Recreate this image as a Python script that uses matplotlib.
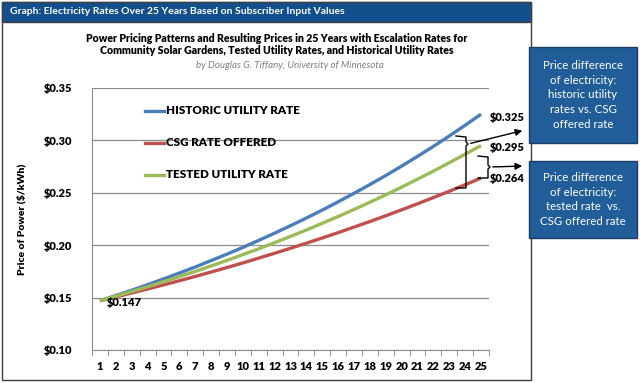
import matplotlib
matplotlib.use("Agg")
from matplotlib import pyplot as plt
from matplotlib.patches import Rectangle, FancyArrowPatch
from matplotlib.lines import Line2D

plt.rcParams['font.family'] = ['Lato', 'DejaVu Sans']

# data
years = list(range(1, 26))
historic = [0.1470, 0.1519, 0.1570, 0.1623, 0.1678, 0.1734, 0.1792, 0.1853, 0.1915, 0.1979,
            0.2046, 0.2115, 0.2186, 0.2259, 0.2335, 0.2414, 0.2495, 0.2579, 0.2665, 0.2755,
            0.2848, 0.2943, 0.3042, 0.3145, 0.3250]
csg = [0.1470, 0.1506, 0.1544, 0.1582, 0.1621, 0.1661, 0.1702, 0.1744, 0.1787, 0.1831,
       0.1877, 0.1923, 0.1971, 0.2019, 0.2069, 0.2120, 0.2173, 0.2226, 0.2281, 0.2338,
       0.2395, 0.2455, 0.2515, 0.2577, 0.2641]
tested = [0.1470, 0.1513, 0.1558, 0.1604, 0.1651, 0.1700, 0.1750, 0.1802, 0.1855, 0.1910,
          0.1966, 0.2024, 0.2084, 0.2145, 0.2209, 0.2274, 0.2341, 0.2410, 0.2481, 0.2554,
          0.2630, 0.2707, 0.2787, 0.2869, 0.2950]
series_names = ["HISTORIC UTILITY RATE", "CSG RATE OFFERED", "TESTED UTILITY RATE"]
y_ticks = [0.10, 0.15, 0.20, 0.25, 0.30, 0.35]

W, H = 640, 383
fig = plt.figure(figsize=(6.4, 3.83), dpi=100)


def px(x, y):
    # pixel position (from top left) -> figure fraction
    return x / W, 1 - y / H


ax = fig.add_axes([92 / W, 1 - 350 / H, (489 - 92) / W, (350 - 88) / H])

blue, red, green = '#4a7ebb', '#c0504d', '#9bbb59'
ax.plot(years, historic, color=blue, lw=2.4, solid_capstyle='butt')
ax.plot(years, csg, color=red, lw=2.4, solid_capstyle='butt')
ax.plot(years, tested, color=green, lw=2.4, solid_capstyle='butt')

ax.set_xlim(0.5, 25.5)
ax.set_ylim(0.10, 0.35)
ax.set_yticks(y_ticks)
ax.set_yticklabels(['$%.2f' % v for v in y_ticks], fontsize=8, fontweight='heavy')
ax.set_xticks(years)
ax.set_xticklabels([str(y) for y in years], fontsize=8, fontweight='heavy')
ax.set_xticks([y + 0.5 for y in range(0, 26)], minor=True)
ax.tick_params(axis='x', which='major', length=0, pad=8)
ax.tick_params(axis='x', which='minor', length=4, color='#868686', direction='out')
ax.tick_params(axis='y', length=0, pad=14)
ax.grid(axis='y', color='#8c8c8c', lw=0.9)
ax.set_axisbelow(True)
for s in ['top', 'right']:
    ax.spines[s].set_visible(False)
for s in ['left', 'bottom']:
    ax.spines[s].set_color('#8c8c8c')
ax.set_ylabel('Price of Power ($/kWh)', fontsize=7.5, fontweight='heavy', labelpad=13)

# legend drawn manually as in the source
leg_colors = [blue, red, green]
for i, (name, c) in enumerate(zip(series_names, leg_colors)):
    yy = 111 + i * 32
    fig.add_artist(Line2D([145 / W, 164 / W], [1 - yy / H] * 2, color=c, lw=2.4))
    fig.text(*px(166, yy), name, fontsize=8.4, fontweight='heavy', va='center', ha='left')

# value labels
fig.text(*px(490, 117), '$0.325', fontsize=8, fontweight='heavy', va='center')
fig.text(*px(490, 148), '$0.295', fontsize=8, fontweight='heavy', va='center')
fig.text(*px(490, 179), '$0.264', fontsize=8, fontweight='heavy', va='center')
fig.text(*px(107, 302), '$0.147', fontsize=8, fontweight='heavy', va='center')

# outer frame and header
fig.add_artist(Rectangle(px(2, 380), 529 / W, 378 / H, fill=False, ec='#404040', lw=1,
                         transform=fig.transFigure))
fig.add_artist(Rectangle(px(2, 22), 529 / W, 20 / H, fc='#134f8c', ec='#404040', lw=1,
                         transform=fig.transFigure))
fig.text(*px(10, 12), 'Graph: Electricity Rates Over 25 Years Based on Subscriber Input Values',
         color='white', fontsize=7.5, fontweight='bold', va='center')

# titles
fig.text(*px(277, 38), 'Power Pricing Patterns and Resulting Prices in 25 Years with Escalation Rates for',
         fontsize=7.6, fontweight='heavy', ha='center', va='center')
fig.text(*px(277, 51), 'Community Solar Gardens, Tested Utility Rates, and Historical Utility Rates',
         fontsize=7.6, fontweight='heavy', ha='center', va='center')
fig.text(*px(290, 65), 'by Douglas G. Tiffany, University of Minnesota',
         fontsize=7, style='italic', color='#7f7f7f', ha='center', va='center')

# braces and arrows
def brace(x0, x1, ytop, ybot, ytip):
    xs = [x0, x1, x1, x1 + 2, x1, x1, x0]
    ys = [ytop, ytop + 1, ytip - 2, ytip, ytip + 2, ybot, ybot]
    fig.add_artist(Line2D([x / W for x in xs], [1 - y / H for y in ys], color='black', lw=1))


brace(456, 466, 136, 188, 144)
brace(478, 488, 156, 178, 167)
for (xa, ya, xb, yb) in [(468, 144, 525, 130), (490, 167, 525, 166)]:
    fig.add_artist(FancyArrowPatch(px(xa, ya), px(xb, yb), transform=fig.transFigure,
                                   arrowstyle='-|>', mutation_scale=10, color='black', lw=1))

# explanation boxes
box_texts = ["Price difference\nof electricity:\nhistoric utility\nrates vs. CSG\noffered rate",
             "Price difference\nof electricity:\ntested rate  vs.\nCSG offered rate"]
for (top, bot), txt in zip([(47, 143), (161, 238)], box_texts):
    fig.add_artist(Rectangle(px(529, bot), 108 / W, (bot - top) / H, fc='#215d99', ec='#1a3d66',
                             lw=1, transform=fig.transFigure))
    fig.text(*px(583, (top + bot) / 2), txt, color='white', fontsize=8.3, ha='center', va='center',
             linespacing=1.4)

plt.savefig('out.png', dpi=100)
